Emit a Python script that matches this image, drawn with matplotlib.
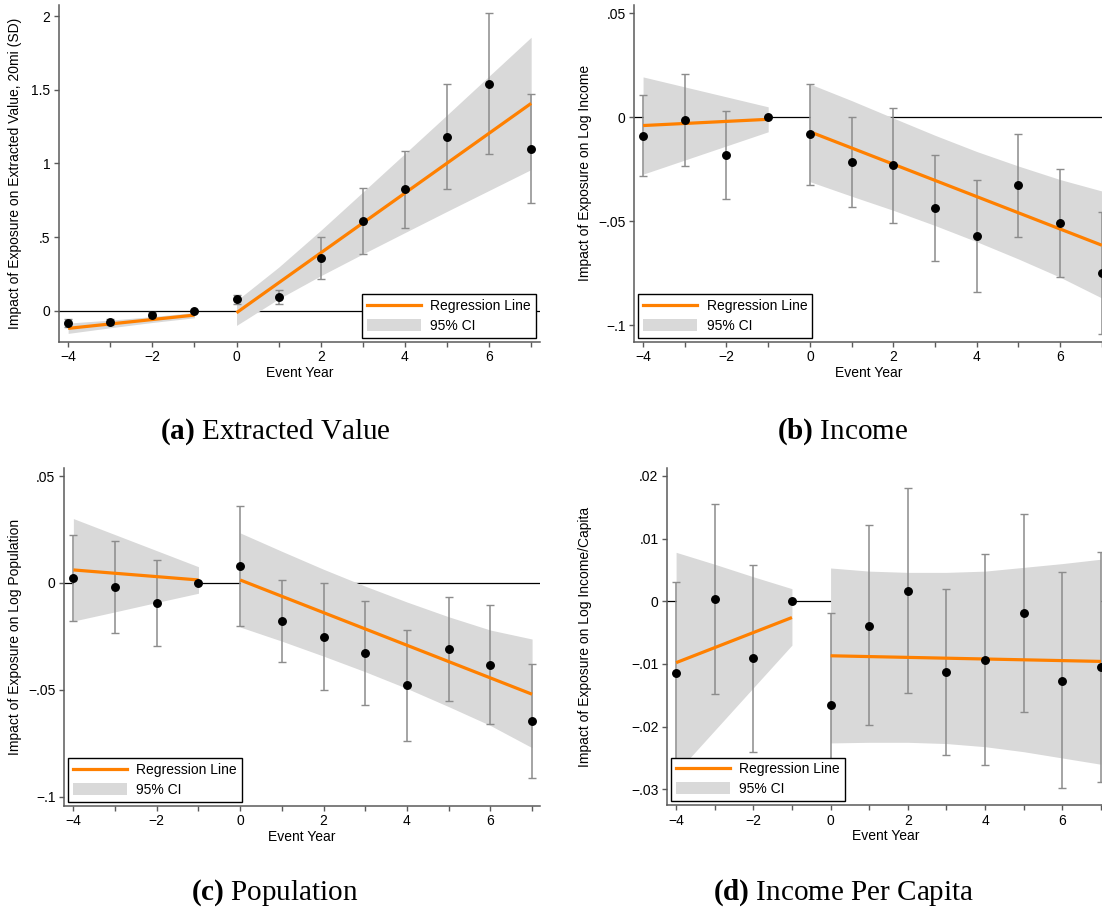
import matplotlib
matplotlib.use('Agg')
from matplotlib import pyplot as plt
from matplotlib.lines import Line2D
from matplotlib.patches import Patch
from matplotlib.transforms import blended_transform_factory

plt.rcParams['font.family'] = ['Liberation Sans', 'DejaVu Sans']
plt.rcParams['mathtext.fontset'] = 'custom'
plt.rcParams['mathtext.rm'] = 'Liberation Serif'
plt.rcParams['mathtext.bf'] = 'Liberation Serif:bold'

YEARS = list(range(-4, 8))
PRE_YEARS = [-4, -3, -2, -1]
POST_YEARS = list(range(0, 8))
PRE_ENDS = [-4, -1]
POST_ENDS = [0, 7]
XTICK_LABELS = ['−4', '', '−2', '', '0', '', '2', '', '4', '', '6', '']

# (a) extracted value
A_COEF = [-0.086, -0.077, -0.032, 0.0, 0.079, 0.090, 0.355, 0.606, 0.826, 1.181, 1.541, 1.100]
A_LO = [-0.113, -0.095, -0.052, 0.0, 0.048, 0.045, 0.213, 0.382, 0.563, 0.824, 1.063, 0.731]
A_HI = [-0.057, -0.059, -0.011, 0.0, 0.109, 0.138, 0.500, 0.830, 1.086, 1.536, 2.018, 1.469]
A_FIT_PRE = [-0.120, -0.030]
A_FIT_POST = [-0.014, 1.407]
A_BAND_PRE_LO = [-0.154, -0.116, -0.080, -0.048]
A_BAND_PRE_HI = [-0.084, -0.064, -0.040, -0.012]
A_BAND_POST_LO = [-0.100, 0.080, 0.237, 0.385, 0.530, 0.674, 0.816, 0.958]
A_BAND_POST_HI = [0.068, 0.295, 0.545, 0.805, 1.066, 1.328, 1.592, 1.856]

# (b) income
B_COEF = [-0.0090, -0.0014, -0.0183, 0.0, -0.0083, -0.0215, -0.0232, -0.0439, -0.0570, -0.0325, -0.0508, -0.0748]
B_LO = [-0.0284, -0.0236, -0.0394, 0.0, -0.0327, -0.0431, -0.0510, -0.0694, -0.0840, -0.0574, -0.0768, -0.1042]
B_HI = [0.0106, 0.0208, 0.0029, 0.0, 0.0159, 0.0002, 0.0046, -0.0184, -0.0301, -0.0079, -0.0248, -0.0455]
B_FIT_PRE = [-0.0040, -0.0010]
B_FIT_POST = [-0.0070, -0.0616]
B_BAND_PRE_LO = [-0.0274, -0.0206, -0.0138, -0.0070]
B_BAND_PRE_HI = [0.0194, 0.0146, 0.0098, 0.0050]
B_BAND_POST_LO = [-0.0310, -0.0380, -0.0448, -0.0521, -0.0599, -0.0682, -0.0770, -0.0870]
B_BAND_POST_HI = [0.0160, 0.0080, -0.0004, -0.0087, -0.0165, -0.0235, -0.0300, -0.0355]

# (c) population
C_COEF = [0.0023, -0.0019, -0.0092, 0.0, 0.0079, -0.0178, -0.0251, -0.0329, -0.0478, -0.0308, -0.0383, -0.0645]
C_LO = [-0.0176, -0.0232, -0.0294, 0.0, -0.0202, -0.0368, -0.0500, -0.0572, -0.0737, -0.0550, -0.0660, -0.0910]
C_HI = [0.0223, 0.0196, 0.0107, 0.0, 0.0361, 0.0012, 0.0000, -0.0084, -0.0220, -0.0067, -0.0104, -0.0380]
C_FIT_PRE = [0.0061, 0.0014]
C_FIT_POST = [0.0014, -0.0520]
C_BAND_PRE_LO = [-0.0178, -0.0135, -0.0091, -0.0048]
C_BAND_PRE_HI = [0.0301, 0.0226, 0.0151, 0.0076]
C_BAND_POST_LO = [-0.0206, -0.0272, -0.0342, -0.0415, -0.0493, -0.0578, -0.0666, -0.0770]
C_BAND_POST_HI = [0.0234, 0.0148, 0.0064, -0.0015, -0.0089, -0.0158, -0.0220, -0.0262]

# (d) income per capita
D_COEF = [-0.0114, 0.0003, -0.0091, 0.0, -0.0165, -0.0039, 0.0016, -0.0113, -0.0094, -0.0019, -0.0127, -0.0105]
D_LO = [-0.0259, -0.0148, -0.0240, 0.0, -0.0312, -0.0198, -0.0146, -0.0245, -0.0262, -0.0177, -0.0298, -0.0289]
D_HI = [0.0031, 0.0155, 0.0057, 0.0, -0.0018, 0.0121, 0.0180, 0.0020, 0.0075, 0.0139, 0.0046, 0.0078]
D_FIT_PRE = [-0.0098, -0.0026]
D_FIT_POST = [-0.0087, -0.0096]
D_BAND_PRE_LO = [-0.0274, -0.0206, -0.0138, -0.0070]
D_BAND_PRE_HI = [0.0078, 0.0059, 0.0039, 0.0020]
D_BAND_POST_LO = [-0.0226, -0.0225, -0.0225, -0.0227, -0.0232, -0.0240, -0.0250, -0.0260]
D_BAND_POST_HI = [0.0053, 0.0048, 0.0046, 0.0046, 0.0048, 0.0054, 0.0060, 0.0067]

ORANGE = '#ff8000'
BAND = '#d9d9d9'
BAR = '#8c8c8c'
AXIS = '#5a5a5a'

W, H = 1102, 911


def draw_panel(ax, coef, lo, hi, fit_pre, fit_post, bpre_lo, bpre_hi, bpost_lo, bpost_hi,
               yticks, ylabels, ylabel, legend_loc, ylabel_px):
    ax.axhline(0, color='black', lw=0.9, zorder=1)
    ax.fill_between(PRE_YEARS, bpre_lo, bpre_hi, color=BAND, lw=0, zorder=2)
    ax.fill_between(POST_YEARS, bpost_lo, bpost_hi, color=BAND, lw=0, zorder=2)
    yerr = [[c - l for c, l in zip(coef, lo)], [h - c for c, h in zip(coef, hi)]]
    ax.errorbar(YEARS, coef, yerr=yerr, fmt='none', ecolor=BAR, elinewidth=1.1,
                capsize=2.6, capthick=1.0, zorder=3)
    ax.plot(PRE_ENDS, fit_pre, color=ORANGE, lw=2.3, solid_capstyle='butt', zorder=3.5)
    ax.plot(POST_ENDS, fit_post, color=ORANGE, lw=2.3, solid_capstyle='butt', zorder=3.5)
    ax.plot(YEARS, coef, 'o', color='black', ms=5.4, zorder=4)

    for side in ('top', 'right'):
        ax.spines[side].set_visible(False)
    for side in ('left', 'bottom'):
        ax.spines[side].set_color(AXIS)
        ax.spines[side].set_linewidth(1.1)
    ax.set_xticks(YEARS)
    ax.set_xticklabels(XTICK_LABELS)
    ax.set_yticks(yticks)
    ax.set_yticklabels(ylabels)
    ax.tick_params(direction='out', length=3.3, width=1.0, color=AXIS, labelsize=10, pad=3)
    ax.set_xlabel('Event Year', fontsize=10, labelpad=1)
    ax.set_ylabel(ylabel, fontsize=10)
    ax.yaxis.set_label_coords(ylabel_px / W, 0.5,
                              transform=blended_transform_factory(fig.transFigure, ax.transAxes))

    handles = [Line2D([], [], color=ORANGE, lw=2.3),
               Patch(facecolor=BAND, edgecolor='none')]
    leg = ax.legend(handles, ['Regression Line', '95% CI'], loc=legend_loc, fontsize=10,
                    handlelength=3.9, handleheight=1.0, handletextpad=0.65, labelspacing=0.4,
                    borderpad=0.35, borderaxespad=0.3, fancybox=False, framealpha=1)
    leg.get_frame().set_edgecolor('black')
    leg.get_frame().set_linewidth(1.0)


fig = plt.figure(figsize=(W / 100, H / 100), dpi=100)

ax_a = fig.add_axes([59.3 / W, 1 - 341.7 / H, (540 - 59.3) / W, (341.7 - 5) / H])
ax_b = fig.add_axes([634.3 / W, 1 - 341.7 / H, (1104 - 634.3) / W, (341.7 - 5) / H])
ax_c = fig.add_axes([64.2 / W, 1 - 805.7 / H, (540 - 64.2) / W, (805.7 - 468.3) / H])
ax_d = fig.add_axes([667.2 / W, 1 - 805.0 / H, (1104 - 667.2) / W, (805.0 - 468.3) / H])

draw_panel(ax_a, A_COEF, A_LO, A_HI, A_FIT_PRE, A_FIT_POST,
           A_BAND_PRE_LO, A_BAND_PRE_HI, A_BAND_POST_LO, A_BAND_POST_HI,
           [0, 0.5, 1, 1.5, 2], ['0', '.5', '1', '1.5', '2'],
           'Impact of Exposure on Extracted Value, 20mi (SD)', 'lower right', 22)
ax_a.set_xlim(-4.21, 7.21)
ax_a.set_ylim(-0.2104, 2.0747)

draw_panel(ax_b, B_COEF, B_LO, B_HI, B_FIT_PRE, B_FIT_POST,
           B_BAND_PRE_LO, B_BAND_PRE_HI, B_BAND_POST_LO, B_BAND_POST_HI,
           [-0.1, -0.05, 0, 0.05], ['−.1', '−.05', '0', '.05'],
           'Impact of Exposure on Log Income', 'lower left', 592)
ax_b.set_xlim(-4.21, 7.05)
ax_b.set_ylim(-0.108, 0.054)

draw_panel(ax_c, C_COEF, C_LO, C_HI, C_FIT_PRE, C_FIT_POST,
           C_BAND_PRE_LO, C_BAND_PRE_HI, C_BAND_POST_LO, C_BAND_POST_HI,
           [-0.1, -0.05, 0, 0.05], ['−.1', '−.05', '0', '.05'],
           'Impact of Exposure on Log Population', 'lower left', 22)
ax_c.set_xlim(-4.22, 7.19)
ax_c.set_ylim(-0.1041, 0.0536)

draw_panel(ax_d, D_COEF, D_LO, D_HI, D_FIT_PRE, D_FIT_POST,
           D_BAND_PRE_LO, D_BAND_PRE_HI, D_BAND_POST_LO, D_BAND_POST_HI,
           [-0.03, -0.02, -0.01, 0, 0.01, 0.02], ['−.03', '−.02', '−.01', '0', '.01', '.02'],
           'Impact of Exposure on Log Income/Capita', 'lower left', 592)
ax_d.set_xlim(-4.23, 7.08)
ax_d.set_ylim(-0.0325, 0.0212)

captions = [(275, 431.7, r'$\mathbf{(a)}$ Extracted Value'),
            (843, 431.7, r'$\mathbf{(b)}$ Income'),
            (275, 893, r'$\mathbf{(c)}$ Population'),
            (844, 893, r'$\mathbf{(d)}$ Income Per Capita')]
for cx, cy, txt in captions:
    fig.text(cx / W, 1 - cy / H, txt, ha='center', va='center',
             family='Liberation Serif', fontsize=21)

fig.savefig('out.png', dpi=100)
